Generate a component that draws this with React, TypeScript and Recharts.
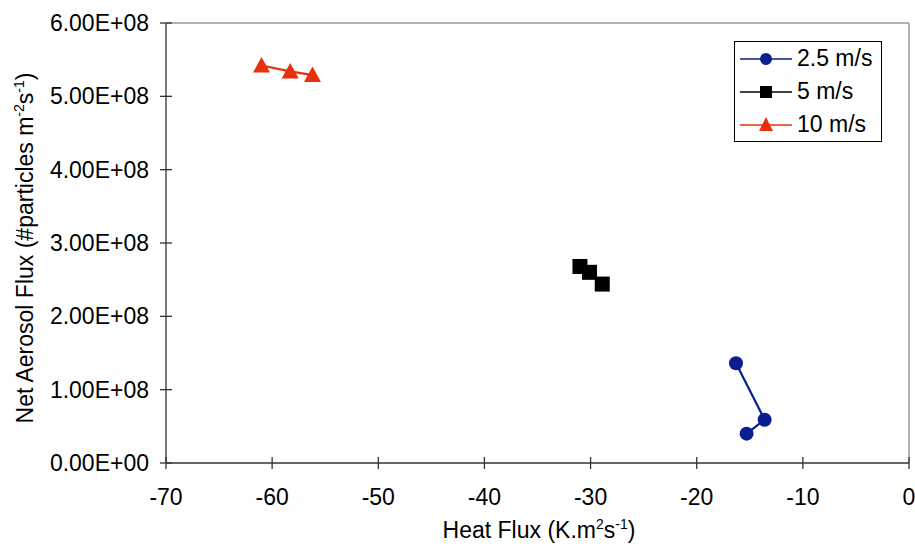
import React from 'react';
import {
  ScatterChart, Scatter, XAxis, YAxis, ReferenceLine,
} from 'recharts';

// heat flux (K.m2/s) vs net aerosol flux (#particles m-2 s-1)
const slow = [
  { x: -16.3, y: 1.36e8 },
  { x: -13.6, y: 0.59e8 },
  { x: -15.3, y: 0.40e8 },
];
const mid = [
  { x: -31.0, y: 2.68e8 },
  { x: -30.1, y: 2.60e8 },
  { x: -28.9, y: 2.44e8 },
];
const fast = [
  { x: -61.0, y: 5.42e8 },
  { x: -58.3, y: 5.34e8 },
  { x: -56.2, y: 5.29e8 },
];

const xTicks = [-70, -60, -50, -40, -30, -20, -10, 0];
const yTicks = [0, 1e8, 2e8, 3e8, 4e8, 5e8, 6e8];
const seriesNames = ['2.5 m/s', '5 m/s', '10 m/s'];

const W = 915;
const H = 546;
const PLOT_LEFT = 166;
const PLOT_BOTTOM = 463;
const FONT = '"Liberation Sans", Arial, sans-serif';
const BLUE = '#0A1E8F';
const RED = '#E8300A';
const AXIS = '#333';

const fmtExp = (v: number) => {
  const [m, e] = v.toExponential(2).split('e');
  const n = Math.abs(parseInt(e, 10));
  return `${m}E${e[0] === '-' ? '-' : '+'}${n < 10 ? '0' + n : n}`;
};

const XTick = ({ x, payload }: any) => (
  <g>
    <line x1={x} x2={x} y1={PLOT_BOTTOM - 6} y2={PLOT_BOTTOM + 6} stroke={AXIS} strokeWidth={1.3} />
    <text x={x} y={505} textAnchor="middle" fontSize={23} fontFamily={FONT} fill="#000">
      {payload.value}
    </text>
  </g>
);

const YTick = ({ y, payload }: any) => (
  <g>
    <line x1={PLOT_LEFT - 6} x2={PLOT_LEFT + 6} y1={y} y2={y} stroke={AXIS} strokeWidth={1.3} />
    <text x={149} y={y + 8} textAnchor="end" fontSize={23} fontFamily={FONT} fill="#000">
      {fmtExp(payload.value)}
    </text>
  </g>
);

const Dot = ({ cx, cy }: any) => <circle cx={cx} cy={cy} r={7} fill={BLUE} />;
const Sq = ({ cx, cy }: any) => <rect x={cx - 7.5} y={cy - 7.5} width={15} height={15} fill="#000" />;
const Tri = ({ cx, cy }: any) => (
  <polygon points={`${cx},${cy - 8.5} ${cx + 8.5},${cy + 7} ${cx - 8.5},${cy + 7}`} fill={RED} />
);

const LegendRow = ({ color, kind, label }: { color: string; kind: string; label: string }) => (
  <div style={{ display: 'flex', alignItems: 'center', height: 34 }}>
    <svg width={56} height={20} style={{ marginLeft: 5 }}>
      <line x1={0} x2={52} y1={10} y2={10} stroke={color} strokeWidth={1.5} />
      {kind === 'circle' && <circle cx={26} cy={10} r={6} fill={color} />}
      {kind === 'square' && <rect x={20} y={4} width={12} height={12} fill={color} />}
      {kind === 'triangle' && <polygon points="26,2 33,16 19,16" fill={color} />}
    </svg>
    <span style={{ fontSize: 23, fontFamily: FONT, color: '#000', marginLeft: 1, lineHeight: 1 }}>{label}</span>
  </div>
);

export default function App() {
  return (
    <div style={{ position: 'absolute', left: 0, top: 0, width: W, height: H, background: '#fff' }}>
      <ScatterChart width={W} height={H} margin={{ top: 23, right: 6, left: 0, bottom: 0 }}>
        <XAxis
          type="number" dataKey="x" domain={[-70, 0]} ticks={xTicks} interval={0}
          height={83} stroke={AXIS} strokeWidth={1.3} tickLine={false} tick={<XTick />}
          allowDataOverflow
        />
        <YAxis
          type="number" dataKey="y" domain={[0, 6e8]} ticks={yTicks} interval={0}
          width={166} stroke={AXIS} strokeWidth={1.3} tickLine={false} tick={<YTick />}
          allowDataOverflow
        />
        <ReferenceLine y={6e8} stroke="#999" strokeWidth={1.5} />
        <ReferenceLine x={0} stroke="#999" strokeWidth={1.5} />
        <Scatter name={seriesNames[0]} data={slow} line={{ stroke: BLUE, strokeWidth: 2.2 }} lineType="joint" shape={<Dot />} isAnimationActive={false} />
        <Scatter name={seriesNames[1]} data={mid} line={{ stroke: '#000', strokeWidth: 2.2 }} lineType="joint" shape={<Sq />} isAnimationActive={false} />
        <Scatter name={seriesNames[2]} data={fast} line={{ stroke: RED, strokeWidth: 2.2 }} lineType="joint" shape={<Tri />} isAnimationActive={false} />
        <text
          transform="translate(33, 248) rotate(-90)" textAnchor="middle"
          fontSize={23} fontFamily={FONT} fill="#000"
        >
          Net Aerosol Flux (#particles m<tspan fontSize={14} dy={-9}>-2</tspan>
          <tspan dy={9}>s</tspan><tspan fontSize={14} dy={-9}>-1</tspan><tspan dy={9}>)</tspan>
        </text>
        <text x={539} y={538} textAnchor="middle" fontSize={23} fontFamily={FONT} fill="#000">
          Heat Flux (K.m<tspan fontSize={14} dy={-9}>2</tspan>
          <tspan dy={9}>s</tspan><tspan fontSize={14} dy={-9}>-1</tspan><tspan dy={9}>)</tspan>
        </text>
      </ScatterChart>
      <div
        style={{
          position: 'absolute', left: 734, top: 41, width: 146, height: 99,
          border: '1px solid #000', background: '#fff', paddingTop: 0,
          display: 'flex', flexDirection: 'column', justifyContent: 'center',
        }}
      >
        <LegendRow color={BLUE} kind="circle" label={seriesNames[0]} />
        <LegendRow color="#000" kind="square" label={seriesNames[1]} />
        <LegendRow color={RED} kind="triangle" label={seriesNames[2]} />
      </div>
    </div>
  );
}
